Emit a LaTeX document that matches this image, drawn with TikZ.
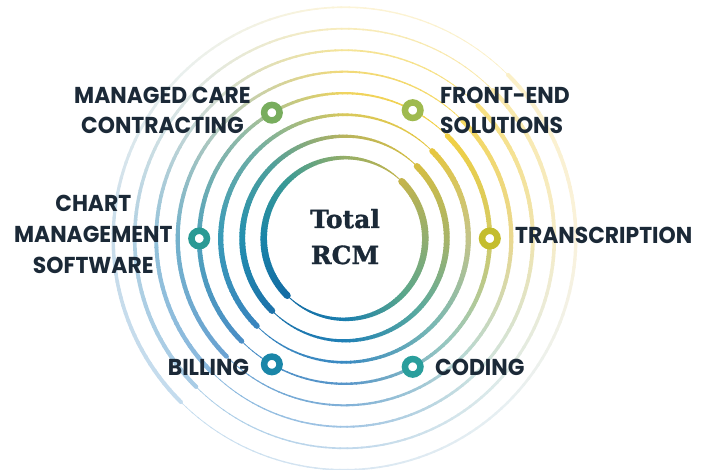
\documentclass[tikz,border=0pt]{standalone}
\usepackage{fontspec}
\newfontfamily\labfont{Poppins}[FakeStretch=0.95]
\newfontfamily\ctrfont{DejaVu Serif}[BoldFont={DejaVu Serif Bold},BoldFeatures={FakeBold=1.2}]
\definecolor{ink}{HTML}{1B2937}
\newcommand\ringcolors[9]{%
  \definecolor{c#10}{HTML}{#2}\definecolor{c#11}{HTML}{#3}%
  \definecolor{c#12}{HTML}{#4}\definecolor{c#13}{HTML}{#5}%
  \definecolor{c#14}{HTML}{#6}\definecolor{c#15}{HTML}{#7}%
  \definecolor{c#16}{HTML}{#8}\definecolor{c#17}{HTML}{#9}%
  \definecolor{c#18}{HTML}{#2}}
%          0°     45°    90°    135°   180°   225°   270°   315°
\ringcolors{0}{92AE70}{C4B44C}{94AE68}{3A9A96}{1A84A8}{146CA4}{1A7EAE}{58A68C}
\ringcolors{1}{A8B468}{D6BE42}{B8B45E}{50A09C}{2490B0}{1C72AA}{2080B6}{58AAA0}
\ringcolors{2}{C4C488}{E6C640}{D8C85C}{70AEA4}{389AB8}{3884BE}{3A8AC2}{78B8B4}
\ringcolors{3}{D4CA64}{F2D044}{F0D460}{90BAA8}{50A2BC}{4A8EC6}{5896CA}{98C8C0}
\ringcolors{4}{EAD890}{F5D860}{F2DA7A}{B8CCBC}{74B2CC}{6AA2D2}{80B0D8}{B8D8D4}
\ringcolors{5}{F0E4B0}{F8E080}{F5E498}{D0DCD4}{94C2DA}{8AB8DE}{A0C4E4}{CCE2E0}
\ringcolors{6}{F6ECC8}{F9E8A8}{F8ECBC}{E0E8E4}{B0D0E2}{A8CCE6}{C0D8EC}{DCEAEA}
\ringcolors{7}{FAF2DC}{FBF0C8}{FCF4D8}{EAF0EE}{C8DCEA}{C4DCEE}{D8E6F2}{E8F0F2}
\definecolor{dMC}{HTML}{78AD5E}
\definecolor{dFE}{HTML}{9FBA4F}
\definecolor{dTR}{HTML}{C4BD2E}
\definecolor{dCH}{HTML}{2A9A94}
\definecolor{dBI}{HTML}{1A86A8}
\definecolor{dCO}{HTML}{2A9E9C}
\begin{document}
\begin{tikzpicture}[x=1pt,y=1pt,
  dot/.style={circle,minimum size=15.5pt,inner sep=0pt,line width=6.5pt,fill=white},
  lab/.style={inner sep=0pt,text=ink,font=\labfont\bfseries\fontsize{23}{27}\selectfont},
  ctr/.style={inner sep=0pt,text=ink,font=\ctrfont\bfseries\fontsize{25}{30}\selectfont}]
\useasboundingbox (0,0) rectangle (706,469);
\begin{scope}[shift={(344.5,230.5)}]
\foreach \k/\rad/\wmax/\pw in {0/80.8/6.8/2.2,1/102.3/6.2/2.1,2/123.8/5.6/1.9,3/145.3/5/1.7,4/166.8/4.6/1.5,5/188.3/4.4/1.4,6/209.8/4.2/1.3,7/231.3/4/1.2}{
  \foreach \sg in {0,1}{
    \foreach \s in {0,...,89}{
      \pgfmathsetmacro{\angA}{225-180*\sg-2*\s}
      \pgfmathsetmacro{\tpar}{(\s+0.5)/90}
      \pgfmathsetmacro{\wid}{0.6+(\wmax-0.6)*(1-\tpar^\pw)}
      \pgfmathsetmacro{\midang}{mod(\angA-1+720,360)}
      \pgfmathtruncatemacro{\ia}{floor(\midang/45)}
      \pgfmathtruncatemacro{\ib}{\ia+1}
      \pgfmathtruncatemacro{\fr}{round((\midang-45*\ia)*100/45)}
      \draw[line width=\wid pt,draw=c\k\ib!\fr!c\k\ia] (\angA:\rad pt) arc[start angle=\angA,end angle=\angA-2.4,radius=\rad pt];
    }
    \pgfmathtruncatemacro{\ci}{5-4*\sg}
    \pgfmathsetmacro{\capang}{225-180*\sg}
    \pgfmathsetmacro{\hw}{\wmax/2}
    \fill[c\k\ci] (\capang:\rad pt) circle[radius=\hw pt];
  }
}
\node[dot,draw=dMC] (dmc) at (120:145.3pt) {};
\node[dot,draw=dFE] (dfe) at (62:145.3pt) {};
\node[dot,draw=dTR] (dtr) at (0:145.3pt) {};
\node[dot,draw=dCH] (dch) at (180:145.3pt) {};
\node[dot,draw=dBI] (dbi) at (240:145.3pt) {};
\node[dot,draw=dCO] (dco) at (298:145.3pt) {};
\end{scope}
\node[lab,anchor=base] (mc1) at (162.5,365.5) {MANAGED CARE};
\node[lab,anchor=base] (mc2) at (162.5,335.7) {CONTRACTING};
\node[lab,anchor=base west] (fe1) at (440,365.7) {FRONT-END};
\node[lab,anchor=base west] (fe2) at (440,335.7) {SOLUTIONS};
\node[lab,anchor=base] (ch1) at (93.3,257) {CHART};
\node[lab,anchor=base] (ch2) at (93.3,226.7) {MANAGEMENT};
\node[lab,anchor=base] (ch3) at (93.3,196) {SOFTWARE};
\node[lab,anchor=base west] (tr) at (515,225.7) {TRANSCRIPTION};
\node[lab,anchor=base east] (bi) at (249.3,94) {BILLING};
\node[lab,anchor=base west] (co) at (435,94) {CODING};
\node[ctr,anchor=base] (t1) at (345,241) {Total};
\node[ctr,anchor=base] (t2) at (345,205) {RCM};
\end{tikzpicture}
\end{document}
